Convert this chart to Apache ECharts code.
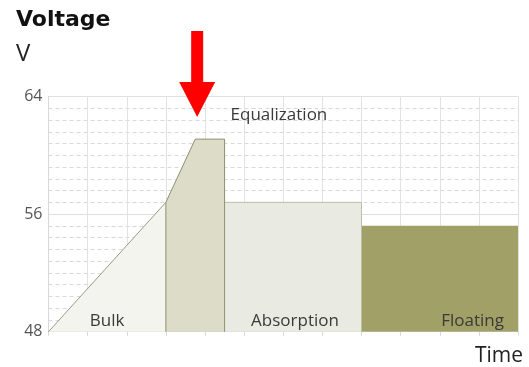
<!DOCTYPE html>
<html>
<head>
<meta charset="utf-8">
<script src="https://cdn.jsdelivr.net/npm/echarts@6/dist/echarts.min.js"></script>
<style>
  html, body { margin: 0; padding: 0; background: #fff; }
  #chart { width: 529px; height: 367px; }
</style>
</head>
<body>
<div id="chart"></div>
<script>
// Battery charging stages: outlines as [time, volts], each filled down to 48 V
const stageNames = ['Bulk', 'Equalization', 'Absorption', 'Floating'];
const bulkPoints = [[0, 48], [3, 56.8]];
const equalizationPoints = [[3, 48], [3, 56.8], [3.75, 61.1], [4.5, 61.1], [4.5, 48]];
const absorptionPoints = [[4.5, 56.8], [8, 56.8], [8, 48]];
const floatingPoints = [[8, 55.2], [12, 55.2], [12, 48]];
const timeRange = [0, 12];
const voltTicks = [48, 56, 64];
// Point (time, volts) that the red arrow marks
const arrowTarget = [3.8, 62.6];

const FONT = 'Open Sans';
const chart = echarts.init(document.getElementById('chart'), null, { renderer: 'canvas' });

function stage(name, data, fill, border, z) {
  return {
    type: 'line', name: name, data: data, symbol: 'none', z: z, silent: true,
    lineStyle: { color: border, width: border === 'none' ? 0 : 1 },
    areaStyle: { color: fill, opacity: 1, origin: 'start' }
  };
}

chart.setOption({
  animation: false,
  grid: { left: 48.5, right: 11, top: 96.5, bottom: 35.3 },
  xAxis: {
    type: 'value', min: timeRange[0], max: timeRange[1], interval: 1,
    axisLabel: { show: false },
    axisLine: { lineStyle: { color: '#cfcfcf' } },
    axisTick: { show: true, length: 4, lineStyle: { color: '#d6d6d6' } },
    splitLine: { show: true, lineStyle: { color: '#e2e2e2', width: 1 } }
  },
  yAxis: {
    type: 'value', min: voltTicks[0], max: voltTicks[voltTicks.length - 1],
    interval: voltTicks[1] - voltTicks[0],
    axisLine: { show: true, lineStyle: { color: '#d8d8d8' } },
    axisTick: { show: false },
    axisLabel: { color: '#555', fontFamily: FONT, fontSize: 16, margin: 6 },
    splitLine: { show: true, lineStyle: { color: '#e0e0e0' } },
    minorTick: { show: false, splitNumber: 10 },
    minorSplitLine: { show: true, lineStyle: { color: '#d9d9d9', type: [4, 3] } }
  },
  series: [
    stage(stageNames[0], bulkPoints, '#f4f4ee', '#9a9a88', 2),
    stage(stageNames[2], absorptionPoints, '#e9eae1', '#bdbda8', 3),
    stage(stageNames[1], equalizationPoints, '#dddcc8', '#8f8f70', 4),
    stage(stageNames[3], floatingPoints, '#a1a067', 'none', 3)
  ]
});

function px(pt) { return chart.convertToPixel({ xAxisIndex: 0, yAxisIndex: 0 }, pt); }

function stageLabel(text, x, y, align) {
  return {
    type: 'text', x: x, y: y, silent: true, z: 20,
    style: { text: text, fill: '#3a3a3a', font: '17px "' + FONT + '"', align: align, verticalAlign: 'middle' }
  };
}

function drawOverlay() {
  const base = voltTicks[0];
  const bulkMid = px([(bulkPoints[0][0] + bulkPoints[1][0]) / 2, base]);
  const absMid = px([(absorptionPoints[0][0] + absorptionPoints[1][0]) / 2, base]);
  const floatEnd = px([floatingPoints[1][0], base]);
  const eqTopRight = px([equalizationPoints[3][0], voltTicks[2]]);
  const tip = px(arrowTarget);

  const headW = 18, headH = 35, shaftW = 6, total = 86;
  const arrow = [
    [tip[0], tip[1]],
    [tip[0] - headW, tip[1] - headH],
    [tip[0] - shaftW, tip[1] - headH],
    [tip[0] - shaftW, tip[1] - total],
    [tip[0] + shaftW, tip[1] - total],
    [tip[0] + shaftW, tip[1] - headH],
    [tip[0] + headW, tip[1] - headH]
  ];

  chart.setOption({
    graphic: [
      { type: 'text', left: 16, top: 9, silent: true, z: 20,
        style: { text: 'Voltage', fill: '#111', font: 'bold 22px "DejaVu Sans"' } },
      { type: 'text', left: 16, top: 42, silent: true, z: 20,
        style: { text: 'V', fill: '#222', font: '24px "' + FONT + '"' } },
      { type: 'text', right: 6, bottom: 0, silent: true, z: 20,
        style: { text: 'Time', fill: '#222', font: '21px "' + FONT + '"' } },
      stageLabel(stageNames[0], bulkMid[0], bulkMid[1] - 11, 'center'),
      stageLabel(stageNames[1], eqTopRight[0] + 6, eqTopRight[1] + 19, 'left'),
      stageLabel(stageNames[2], absMid[0] + 2, absMid[1] - 11, 'center'),
      stageLabel(stageNames[3], floatEnd[0] - 14, floatEnd[1] - 11, 'right'),
      { type: 'polygon', silent: true, z: 20, shape: { points: arrow }, style: { fill: '#ff0000' } }
    ]
  });
}
drawOverlay();
</script>
</body>
</html>
